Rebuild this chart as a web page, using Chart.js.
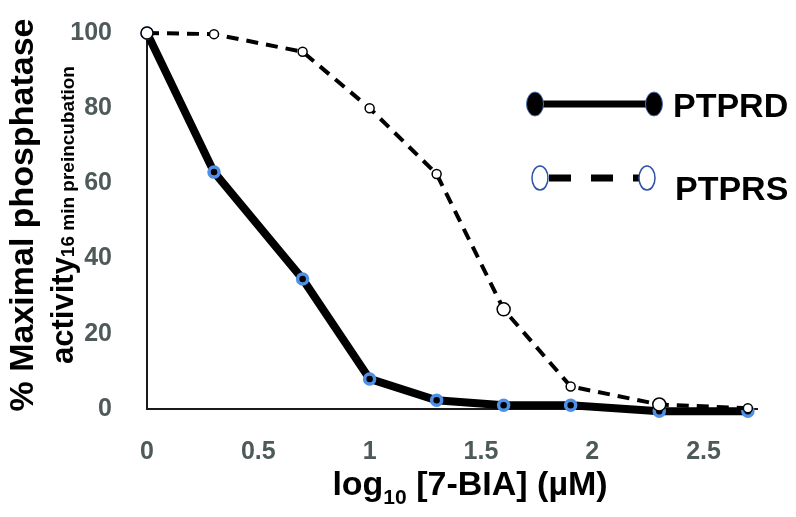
<!DOCTYPE html>
<html>
<head>
<meta charset="utf-8">
<script src="https://cdn.jsdelivr.net/npm/chart.js@4.4.1/dist/chart.umd.min.js"></script>
<style>
html, body { margin: 0; padding: 0; background: #fff; }
</style>
</head>
<body>
<canvas id="inhibition" width="796" height="517"></canvas>
<script>
// log10 of 7-BIA concentration (1, 2, 5, 10, 20, 40, 80, 200, 500 uM)
const logConc = [0, 0.301, 0.699, 1, 1.301, 1.602, 1.903, 2.301, 2.699];
const ptprd = [100, 63, 34.6, 8, 2.3, 1, 1, -0.6, -0.6];
const ptprs = [100, 99.7, 95, 80, 62.5, 26.5, 6, 1.2, 0.2];
const xTicks = [0, 0.5, 1, 1.5, 2, 2.5];
const yTicks = [0, 20, 40, 60, 80, 100];
const seriesNames = ['PTPRD', 'PTPRS'];

const FONT = '"Liberation Sans", Arial, sans-serif';
const tickColor = '#4e5959';

const toPoints = vals => vals.map((v, i) => ({ x: logConc[i], y: v }));

// legend + axis titles (titles need subscripts, so drawn by hand)
const extras = {
    id: 'extras',
    afterDraw(chart) {
        const ctx = chart.ctx;
        ctx.save();
        ctx.fillStyle = '#000';

        // y title, line 1
        ctx.save();
        ctx.translate(33, 215);
        ctx.rotate(-Math.PI / 2);
        ctx.font = 'bold 34px ' + FONT;
        ctx.textAlign = 'center';
        ctx.textBaseline = 'alphabetic';
        ctx.fillText('% Maximal phosphatase', 0, 0);
        ctx.restore();

        // y title, line 2 with subscript
        ctx.save();
        ctx.translate(73, 215);
        ctx.rotate(-Math.PI / 2);
        ctx.textAlign = 'left';
        ctx.font = 'bold 31px ' + FONT;
        const w1 = ctx.measureText('activity').width;
        ctx.font = 'bold 19px ' + FONT;
        const w2 = ctx.measureText('16 min preincubation').width;
        let sx = -(w1 + w2) / 2;
        ctx.font = 'bold 31px ' + FONT;
        ctx.fillText('activity', sx, 0);
        ctx.font = 'bold 19px ' + FONT;
        ctx.fillText('16 min preincubation', sx + w1, 1);
        ctx.restore();

        // x title with subscript
        ctx.font = 'bold 34px ' + FONT;
        const a = ctx.measureText('log').width;
        const c = ctx.measureText(' [7-BIA] (\u00b5M)').width;
        ctx.font = 'bold 21px ' + FONT;
        const b = ctx.measureText('10').width;
        let x0 = 470 - (a + b + c) / 2;
        ctx.textAlign = 'left';
        ctx.font = 'bold 34px ' + FONT;
        ctx.fillText('log', x0, 495);
        ctx.font = 'bold 21px ' + FONT;
        ctx.fillText('10', x0 + a, 504);
        ctx.font = 'bold 34px ' + FONT;
        ctx.fillText(' [7-BIA] (\u00b5M)', x0 + a + b, 495);

        // legend: PTPRD
        ctx.strokeStyle = '#000';
        ctx.lineWidth = 7;
        ctx.beginPath();
        ctx.moveTo(535, 104);
        ctx.lineTo(654, 104);
        ctx.stroke();
        [535, 654].forEach(ex => {
            ctx.beginPath();
            ctx.ellipse(ex, 104, 8.5, 12, 0, 0, Math.PI * 2);
            ctx.fillStyle = '#000';
            ctx.fill();
            ctx.lineWidth = 1;
            ctx.strokeStyle = '#4a6fb5';
            ctx.stroke();
        });

        // legend: PTPRS
        ctx.strokeStyle = '#000';
        ctx.lineWidth = 7;
        ctx.setLineDash([22, 20]);
        ctx.beginPath();
        ctx.moveTo(549, 178);
        ctx.lineTo(647, 178);
        ctx.stroke();
        ctx.setLineDash([]);
        [540, 647].forEach(ex => {
            ctx.beginPath();
            ctx.ellipse(ex, 178, 8, 12, 0, 0, Math.PI * 2);
            ctx.fillStyle = '#fff';
            ctx.fill();
            ctx.lineWidth = 1.5;
            ctx.strokeStyle = '#2f52a8';
            ctx.stroke();
        });

        ctx.fillStyle = '#000';
        ctx.font = 'bold 34px ' + FONT;
        ctx.textAlign = 'left';
        ctx.textBaseline = 'alphabetic';
        ctx.fillText(seriesNames[0], 673, 117);
        ctx.fillText(seriesNames[1], 675, 200);
        ctx.restore();
    }
};

const ctx = document.getElementById('inhibition').getContext('2d');
const chart = new Chart(ctx, {
    type: 'line',
    data: {
        datasets: [{
            label: seriesNames[1],
            data: toPoints(ptprs),
            borderColor: '#000',
            borderWidth: 4,
            borderDash: [12, 8],
            pointRadius: [6, 4.5, 4.5, 4.5, 4.5, 6.5, 4.5, 6.5, 4.5],
            pointBackgroundColor: '#fff',
            pointBorderColor: '#000',
            pointBorderWidth: 1.5,
            clip: false,
            order: 0
        }, {
            label: seriesNames[0],
            data: toPoints(ptprd),
            borderColor: '#000',
            borderWidth: 8,
            pointRadius: 5,
            pointBackgroundColor: '#000',
            pointBorderColor: '#4f8fe6',
            pointBorderWidth: 3.5,
            clip: false,
            order: 1
        }]
    },
    options: {
        responsive: false,
        animation: false,
        devicePixelRatio: 1,
        layout: {
            padding: { top: 33, right: 39, left: 0, bottom: 0 }
        },
        scales: {
            x: {
                type: 'linear',
                min: 0,
                max: 2.74,
                afterBuildTicks: s => { s.ticks = xTicks.map(v => ({ value: v })); },
                afterFit: s => { s.height = 108; s.paddingLeft = 0; s.paddingRight = 0; },
                grid: { display: false },
                border: { display: true, color: '#1a1a1a', width: 2 },
                ticks: {
                    color: tickColor,
                    padding: 20,
                    callback: v => String(v),
                    font: { family: FONT, size: 25, weight: 'bold' }
                }
            },
            y: {
                min: 0,
                max: 100,
                afterBuildTicks: s => { s.ticks = yTicks.map(v => ({ value: v })); },
                afterFit: s => { s.width = 147; s.paddingTop = 0; s.paddingBottom = 0; },
                grid: { display: false },
                border: { display: true, color: '#1a1a1a', width: 2 },
                ticks: {
                    color: tickColor,
                    padding: 27,
                    callback: v => String(v),
                    font: { family: FONT, size: 25, weight: 'bold' }
                }
            }
        },
        plugins: {
            legend: { display: false },
            tooltip: { enabled: false }
        }
    },
    plugins: [extras]
});
</script>
</body>
</html>
